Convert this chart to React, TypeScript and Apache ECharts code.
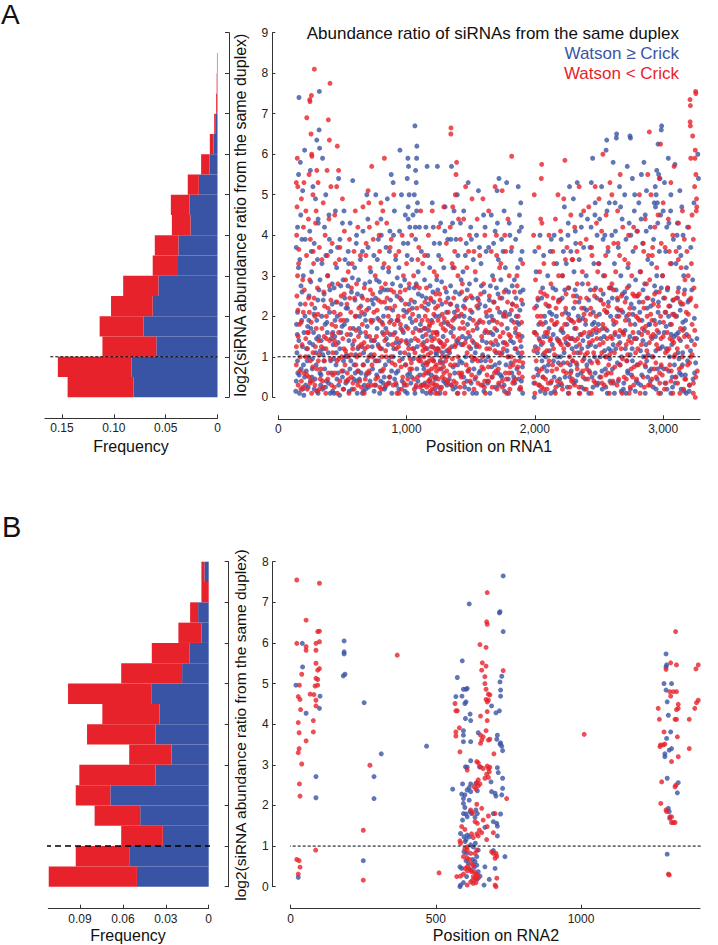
import React, { useEffect, useRef } from 'react';
import * as echarts from 'echarts';

const BLUE = '#3A54A5';
const RED = '#E8222A';
const FONT = '"Liberation Sans", Arial, Helvetica, sans-serif';

// Histogram bins (log2 ratio, 0.5 wide)
const binLabelsA = ['0-0.5','0.5-1','1-1.5','1.5-2','2-2.5','2.5-3','3-3.5','3.5-4','4-4.5','4.5-5','5-5.5','5.5-6','6-6.5','6.5-7','7-7.5','7.5-8','8-8.5','8.5-9'];
const histBlueA = [0.081,0.083,0.059,0.0715,0.0625,0.057,0.039,0.0377,0.026,0.027,0.018,0.0077,0.0039,0.0016,0.0003,0.0002,0,0];
const histRedA = [0.0636,0.071,0.052,0.0422,0.0402,0.034,0.0235,0.0228,0.018,0.018,0.0107,0.0081,0.0035,0.0016,0.001,0.0006,0.0005,0];

const binLabelsB = ['0-0.5','0.5-1','1-1.5','1.5-2','2-2.5','2.5-3','3-3.5','3.5-4','4-4.5','4.5-5','5-5.5','5.5-6','6-6.5','6.5-7','7-7.5','7.5-8'];
const histBlueB = [0.0502,0.0556,0.0321,0.0479,0.0688,0.0372,0.026,0.0372,0.0344,0.0398,0.0186,0.0135,0.0051,0.0074,0,0.003];
const histRedB = [0.0617,0.0374,0.0291,0.0319,0.0242,0.0533,0.0296,0.0479,0.04,0.0586,0.0426,0.0263,0.0161,0.0056,0.0051,0.0021];

const freqTicksA = [0, 0.05, 0.1, 0.15];
const freqTicksB = [0, 0.03, 0.06, 0.09];
const threshold = 1;

// RNA1 scatter: [position, log2 ratio] flattened
const watsonGeA1 = [161,7.4,172,5.8,158,5.5,205,6.1,190,5.1,150,4.2,175,4.5,210,3.9,140,3.7,168,3.4,195,3.0,150,2.1,185,2.6,142,1.8,200,1.6,160,1.4,220,1.2,150,0.9,178,0.7,205,0.5,140,0.4,190,0.2,225,0.9,165,0.1,145,1.1,182,1.9,213,0.3,172,2.3,196,0.8,152,0.6,
320,7.55,318,6.6,300,6.35,322,6.15,250,5.6,270,5.2,290,4.9,310,4.4,245,4.1,280,3.8,305,3.4,260,3.1,325,2.9,240,2.5,285,2.2,300,1.9,255,1.7,315,1.5,270,1.3,235,1.0,295,0.8,325,0.6,250,0.4,280,0.2,310,0.1,265,0.7,238,1.9,262,0.5,292,1.1,308,2.4,275,1.6,330,0.3,
345,5.9,370,5.0,395,4.5,360,4.2,410,3.6,340,3.3,385,3.0,420,2.8,350,2.4,400,2.1,365,1.8,425,1.6,335,1.4,390,1.1,355,0.9,415,0.6,375,0.4,345,0.2,405,0.1,428,1.3,338,2.0,362,0.7,382,1.6,408,0.9,420,2.3,352,1.2,
470,5.4,445,4.6,500,4.3,480,3.9,520,3.4,455,3.2,505,2.9,435,2.7,490,2.3,460,2.0,515,1.8,440,1.5,480,1.2,525,1.0,450,0.8,500,0.5,470,0.3,435,0.1,510,0.2,442,1.9,466,0.6,488,1.6,508,0.9,528,2.2,452,1.1,
580,5.35,560,4.3,610,4.0,545,3.6,595,3.2,625,2.9,570,2.6,540,2.2,605,2.0,585,1.7,550,1.4,620,1.2,565,0.9,600,0.6,540,0.4,575,0.2,615,0.1,590,0.8,535,1.9,558,0.7,580,1.3,598,2.4,612,0.4,628,1.7,
690,5.0,660,4.1,700,3.7,640,3.4,720,3.1,675,2.8,650,2.5,705,2.2,680,1.9,640,1.6,725,1.4,665,1.1,695,0.9,645,0.6,715,0.4,680,0.2,655,0.1,635,2.0,660,0.8,688,1.5,708,0.6,728,2.4,670,0.3,
760,5.0,800,4.4,780,3.9,745,3.5,815,3.2,765,2.9,795,2.6,740,2.3,820,2.0,770,1.7,750,1.4,805,1.2,785,0.9,735,0.7,825,0.5,760,0.3,790,0.1,738,1.9,755,0.9,778,1.3,798,0.4,812,1.6,828,0.2,
880,5.5,895,5.3,850,4.9,905,4.6,870,4.1,840,3.7,915,3.4,860,3.1,890,2.8,925,2.5,845,2.2,880,1.9,910,1.6,855,1.3,895,1.0,835,0.8,870,0.5,920,0.3,885,0.1,838,1.7,862,0.9,875,2.4,900,1.2,918,0.6,928,1.9];

const watsonGeA2 = [948,6.1,1010,5.9,1015,5.7,1005,5.4,960,5.0,1020,5.0,1012,4.7,990,4.5,945,4.1,1025,4.2,975,3.8,1005,3.5,940,3.2,985,2.9,1020,2.7,960,2.4,1000,2.1,935,1.9,975,1.6,1015,1.3,950,1.1,990,0.8,1025,0.6,965,0.4,940,0.2,1005,0.1,955,1.7,982,0.3,998,1.4,1018,2.3,
1065,6.7,1080,6.2,1078,5.9,1070,5.6,1075,5.3,1060,5.0,1085,4.8,1050,4.5,1100,4.2,1070,3.9,1115,3.6,1040,3.4,1090,3.1,1075,2.8,1060,2.7,1120,2.5,1045,2.2,1095,2.0,1070,1.7,1125,1.5,1055,1.2,1105,1.0,1080,0.7,1040,0.5,1115,0.3,1065,0.1,1035,1.4,1088,0.4,1108,1.8,1128,0.8,
1160,5.7,1200,4.8,1150,4.2,1215,3.8,1180,3.2,1140,2.9,1205,2.6,1170,2.3,1225,2.0,1145,1.7,1190,1.5,1160,1.2,1210,0.9,1135,0.7,1180,0.4,1220,0.2,1155,0.1,1142,2.2,1168,0.6,1195,1.9,1228,1.1,1188,0.1,
1240,5.7,1300,4.7,1265,4.3,1320,3.9,1250,3.5,1290,3.2,1235,2.9,1310,2.6,1275,2.3,1255,2.0,1325,1.8,1285,1.5,1245,1.2,1305,1.0,1270,0.7,1230,0.5,1315,0.3,1260,0.1,1238,1.6,1262,0.9,1288,0.4,1312,2.1,1280,1.1,
1350,5.7,1395,5.0,1370,4.6,1420,4.3,1345,3.9,1400,3.5,1360,3.2,1425,2.9,1380,2.6,1340,2.3,1410,2.0,1365,1.7,1390,1.4,1335,1.1,1415,0.9,1375,0.6,1350,0.3,1400,0.1,1345,1.6,1372,2.1,1398,0.8,1428,1.3,1362,0.2,
1480,5.3,1445,4.6,1500,4.2,1465,3.8,1520,3.4,1440,3.1,1490,2.8,1455,2.4,1510,2.1,1475,1.8,1435,1.5,1500,1.2,1460,1.0,1525,0.7,1445,0.5,1485,0.2,1515,0.1,1448,2.0,1470,0.4,1492,1.5,1512,0.9,
1560,5.1,1600,4.5,1545,4.0,1620,3.6,1580,3.3,1540,2.9,1605,2.6,1570,2.3,1625,2.0,1550,1.7,1590,1.4,1535,1.1,1615,0.9,1565,0.6,1595,0.3,1545,0.1,1558,2.2,1578,0.9,1610,1.6,1628,0.4,
1720,5.4,1705,5.1,1660,4.5,1690,4.1,1640,3.7,1715,3.4,1670,3.0,1700,2.7,1645,2.4,1725,2.1,1680,1.9,1655,1.6,1710,1.3,1635,1.0,1690,0.8,1665,0.5,1720,0.3,1650,0.1,1662,2.0,1698,1.1,1712,0.6,1675,1.3,
1780,5.3,1760,4.6,1800,4.3,1740,3.9,1815,3.6,1770,3.2,1735,2.9,1795,2.6,1825,2.3,1755,2.0,1785,1.7,1810,1.4,1745,1.1,1775,0.8,1820,0.6,1760,0.3,1795,0.1,1768,2.1,1792,1.0,1742,0.5,1818,1.9,
1870,5.2,1890,4.8,1880,4.5,1895,4.2,1850,3.9,1900,3.6,1865,3.2,1840,2.9,1885,2.6,1905,2.3,1855,2.0,1875,1.8,1900,1.5,1845,1.2,1890,1.0,1860,0.7,1835,0.5,1880,0.2,1905,0.1,1848,1.6,1868,1.1,1895,0.4];

const watsonGeA3 = [2000,3.6,2040,4.0,2010,3.1,2060,2.7,2025,2.4,2075,2.0,2000,1.6,2050,1.3,2085,1.0,2015,0.7,2065,0.5,2035,0.3,2080,0.1,1995,0.0,2030,1.8,2055,0.9,2070,1.5,2020,1.1,
2150,4.0,2120,3.6,2170,3.3,2100,3.0,2140,2.7,2185,2.4,2115,2.1,2160,1.8,2095,1.5,2135,1.3,2175,1.0,2105,0.8,2150,0.5,2185,0.3,2125,0.1,2110,1.7,2145,0.9,2168,2.0,2188,1.4,
2270,5.2,2230,4.7,2260,4.3,2205,3.9,2280,3.6,2245,3.3,2215,3.0,2265,2.7,2195,2.4,2240,2.1,2285,1.9,2220,1.6,2255,1.3,2200,1.0,2275,0.8,2235,0.5,2210,0.3,2260,0.1,2228,1.1,2250,1.8,2272,0.5,2290,1.2,
2330,5.3,2300,4.9,2360,4.5,2315,4.1,2380,3.7,2345,3.4,2305,3.1,2370,2.8,2325,2.5,2385,2.2,2350,1.9,2310,1.7,2375,1.4,2335,1.1,2295,0.9,2360,0.6,2320,0.4,2385,0.2,2345,0.1,2302,2.2,2338,2.0,2365,1.2,2328,0.8,
2450,5.9,2440,5.3,2470,4.8,2410,4.4,2485,4.0,2430,3.7,2460,3.3,2400,3.0,2475,2.7,2420,2.4,2455,2.1,2395,1.8,2480,1.6,2435,1.3,2465,1.0,2405,0.8,2445,0.5,2485,0.3,2420,0.1,2415,1.5,2448,1.8,2470,0.6,2428,0.9,
2560,6.35,2555,6.1,2520,5.2,2580,4.8,2505,4.4,2545,4.0,2570,3.6,2500,3.3,2535,3.0,2585,2.7,2515,2.4,2560,2.1,2495,1.8,2540,1.5,2575,1.2,2510,1.0,2550,0.7,2585,0.4,2525,0.2,2565,0.1,2528,1.7,2555,1.0,2590,2.0,2505,0.5,
2637,6.5,2635,6.4,2610,5.8,2660,5.2,2625,4.8,2680,4.4,2600,4.0,2650,3.7,2620,3.3,2670,3.0,2595,2.7,2645,2.4,2685,2.1,2615,1.8,2655,1.5,2630,1.2,2675,1.0,2605,0.7,2650,0.4,2690,0.2,2620,0.1,2640,2.0,2662,0.8,2610,1.3,2688,1.6,
2741,6.45,2745,6.4,2720,5.7,2760,5.4,2700,5.0,2775,4.6,2735,4.3,2710,3.9,2765,3.6,2725,3.2,2785,2.9,2700,2.6,2750,2.3,2715,2.0,2780,1.8,2740,1.5,2705,1.2,2760,0.9,2725,0.6,2790,0.4,2745,0.2,2710,0.1,2732,1.9,2758,1.2,2772,2.2,2718,0.9,
2850,5.8,2830,5.5,2870,5.1,2810,4.8,2860,4.5,2795,4.1,2840,3.8,2880,3.4,2820,3.1,2855,2.8,2800,2.5,2875,2.2,2835,1.9,2810,1.6,2865,1.3,2845,1.0,2795,0.8,2880,0.5,2825,0.3,2860,0.1,2818,2.1,2842,1.4,2872,0.9,2888,1.8,
2988,6.7,2985,6.6,2960,6.25,2950,5.6,2965,5.5,2975,5.4,2945,5.0,2930,4.8,2940,4.7,2955,4.8,2980,4.5,2900,4.2,2925,3.9,2970,3.6,2910,3.3,2950,3.0,2985,2.7,2920,2.4,2960,2.1,2895,1.8,2940,1.5,2975,1.2,2915,1.0,2955,0.7,2900,0.4,2945,0.2,2980,0.1,2932,1.9,2965,1.6,2908,0.7,2945,2.6,
3040,5.9,3010,5.3,3060,5.0,3000,4.6,3045,4.3,3080,3.9,3020,3.6,3065,3.3,2995,3.0,3035,2.7,3075,2.4,3015,2.1,3055,1.8,3085,1.5,3025,1.2,3050,1.0,3005,0.7,3070,0.5,3030,0.2,3060,0.1,3008,1.6,3042,2.0,3068,1.3,3088,0.8,
3092,5.75,3130,5.1,3145,4.7,3110,4.3,3155,4.0,3125,3.7,3100,3.3,3160,3.0,3120,2.7,3140,2.3,3105,2.0,3165,1.7,3135,1.4,3115,1.1,3150,0.8,3100,0.5,3140,0.2,3118,1.6,3152,1.1,3128,0.6,
3270,6.0,3275,5.4,3240,4.8,3190,4.2,3215,3.7,3180,3.2,3230,2.9,3200,2.4,3175,1.9,3220,1.4,3190,0.9,3245,0.6,3205,0.3,3180,0.1];

const watsonGeA4 = [136,0.15,148,1.55,163,0.55,177,2.75,188,1.25,199,0.05,208,2.0,218,0.65,229,1.75,157,3.2,184,3.9,
233,0.25,244,1.35,253,2.85,266,0.95,278,2.05,287,0.45,298,1.45,306,0.15,317,2.65,328,1.15,257,3.6,312,4.3,
333,0.55,347,1.05,357,2.55,368,0.25,379,1.85,392,0.35,402,2.65,413,1.45,423,0.15,371,3.5,398,3.9,
432,0.95,448,2.35,457,0.45,468,1.35,478,0.05,487,2.75,497,1.75,506,0.65,518,2.45,526,0.35,462,3.7,512,4.6,
532,1.05,543,2.75,553,0.15,563,1.55,577,2.95,588,0.45,603,1.05,617,2.55,624,0.65,548,3.3,608,3.8,
632,0.45,643,2.25,652,1.25,663,0.15,672,2.05,684,0.55,693,1.75,702,0.25,713,2.85,722,1.05,656,3.6,698,4.4,
732,1.25,747,0.15,758,2.45,767,0.55,775,1.95,787,2.85,796,0.65,808,1.85,818,0.35,826,2.65,772,3.4,803,4.0,
833,0.25,843,1.45,852,2.65,864,0.35,873,1.55,883,0.65,892,2.15,907,0.45,916,1.35,927,2.95,866,3.6,898,4.0,
933,0.65,944,1.35,953,2.75,967,0.95,977,2.15,988,0.15,996,1.75,1008,0.55,1017,1.05,1028,1.95,1010,3.8,1013,4.4,
1033,0.35,1043,1.85,1052,0.95,1062,2.35,1072,0.25,1083,1.25,1092,2.55,1103,0.55,1113,1.65,1124,0.15,1068,4.2,1078,4.6,
1133,1.35,1143,0.35,1153,2.45,1163,0.85,1173,1.65,1183,2.75,1193,0.55,1203,1.25,1213,2.35,1223,0.45,1165,3.5,1208,4.2,
1233,1.05,1243,2.65,1253,0.25,1263,1.35,1273,2.85,1283,0.85,1293,1.85,1303,0.35,1313,1.15,1323,2.45,1258,3.8,1298,4.1,
1333,0.45,1343,2.75,1353,1.25,1363,0.75,1373,1.95,1383,0.25,1393,2.25,1403,1.35,1413,2.55,1423,0.55,1385,3.9,1358,4.3,
1433,0.85,1443,2.25,1453,0.25,1463,1.45,1473,2.65,1483,0.65,1493,1.95,1503,0.35,1513,2.45,1523,1.35,1458,3.5,1505,3.9,
1533,0.45,1543,1.25,1553,2.45,1563,1.85,1573,0.65,1583,2.75,1593,1.05,1603,0.15,1613,2.25,1623,1.35,1568,3.7,1612,4.2,
1633,0.35,1643,1.85,1653,2.75,1663,0.75,1673,1.55,1683,2.35,1693,0.25,1703,1.65,1713,2.55,1723,0.85,1678,3.8,1708,4.3,
1733,0.55,1743,2.45,1753,1.35,1763,0.15,1773,2.65,1783,1.15,1793,0.45,1803,2.05,1813,0.85,1823,2.75,1752,3.6,1805,4.0,
1833,1.35,1843,0.35,1853,2.45,1863,1.85,1873,0.45,1883,2.15,1893,1.25,1903,0.75,1908,2.65,1888,3.4,1878,4.1,
1992,0.35,2003,1.25,2013,2.25,2023,0.55,2033,1.45,2043,0.15,2053,2.45,2063,1.05,2073,0.75,2083,1.85,2068,3.5,
2093,0.65,2103,2.25,2113,1.15,2123,0.35,2133,2.05,2143,1.55,2153,0.15,2163,2.65,2173,1.45,2183,0.85,2128,3.9,
2193,0.45,2203,1.65,2213,2.45,2223,0.85,2233,2.65,2243,1.35,2253,0.25,2263,2.05,2273,1.45,2283,0.65,2222,3.6,2258,4.0,
2293,1.45,2303,0.35,2313,2.65,2323,1.25,2333,0.55,2343,2.35,2353,1.55,2363,0.25,2373,1.95,2383,0.95,2318,3.8,2362,4.2,
2393,0.45,2403,2.15,2413,1.25,2423,0.65,2433,2.65,2443,1.55,2453,0.25,2463,1.85,2473,1.25,2483,2.45,2438,4.2,2468,4.5,
2493,0.35,2503,2.05,2513,1.45,2523,0.65,2533,2.55,2543,1.15,2553,0.25,2563,1.65,2573,2.35,2583,0.95,2532,3.9,2562,4.6,
2593,1.15,2603,2.45,2613,0.35,2623,1.55,2633,2.65,2643,0.85,2653,2.15,2663,1.35,2673,0.15,2683,2.55,2628,4.1,2668,4.7,
2693,0.35,2703,1.65,2713,2.45,2723,0.65,2733,2.75,2743,1.05,2753,0.55,2763,2.05,2773,1.45,2783,0.15,2748,4.0,2778,5.0,
2793,1.45,2803,0.35,2813,2.35,2823,1.15,2833,0.55,2843,2.65,2853,1.65,2863,0.75,2873,2.45,2883,1.05,2828,4.4,2868,4.1,
2893,0.65,2903,2.25,2913,1.45,2923,0.25,2933,2.75,2943,1.15,2953,0.45,2963,2.35,2973,1.85,2983,0.75,2958,4.3,2938,5.2,
2993,1.25,3003,2.45,3013,0.35,3023,1.75,3033,2.65,3043,0.65,3053,2.25,3063,1.55,3073,0.25,3083,2.05,3028,4.2,3058,4.6,
3093,0.35,3103,1.55,3113,2.45,3123,0.95,3133,2.15,3143,0.55,3153,1.85,3163,0.15,3168,2.65,3138,3.5,3108,4.0,
3173,0.55,3183,1.55,3193,2.35,3203,0.15,3213,1.15,3223,2.65,3233,0.45,3243,1.95,3253,0.85,3263,1.45];

const watsonLtA1 = [148,5.9,140,5.3,152,5.2,146,4.7,200,5.3,180,4.9,215,4.6,143,4.0,160,3.65,220,3.5,150,3.0,190,2.9,145,2.5,210,2.3,155,1.5,185,1.3,170,1.0,140,0.8,200,0.6,155,0.3,225,0.2,180,0.4,165,1.8,195,2.1,212,1.0,176,0.2,228,1.6,
281,8.1,258,7.45,245,7.35,247,7.3,222,6.9,255,6.5,260,6.0,262,5.95,240,5.5,300,5.6,270,5.0,310,5.3,235,4.4,290,4.3,250,3.9,320,3.7,275,3.3,245,2.9,305,2.7,260,2.3,285,2.0,235,1.6,315,1.4,270,1.1,250,0.9,300,0.7,240,0.5,285,0.3,320,0.2,260,0.1,228,1.2,296,1.7,312,0.9,266,0.4,242,2.1,
403,7.75,390,6.85,398,6.35,380,5.6,410,5.2,350,4.8,395,4.4,365,4.0,420,3.8,340,3.4,385,3.0,355,2.6,410,2.4,375,2.0,340,1.7,400,1.4,425,1.1,360,0.9,390,0.6,345,0.4,415,0.3,370,0.1,332,0.7,358,1.5,388,2.2,418,1.8,372,1.2,
460,6.2,470,5.6,455,5.2,500,4.9,440,4.5,515,4.1,480,3.7,445,3.3,525,2.9,465,2.8,490,2.5,435,2.1,510,1.9,470,1.6,450,1.3,495,1.0,520,0.8,440,0.6,480,0.4,505,0.2,460,0.1,438,1.4,458,0.9,486,1.9,512,1.2,528,0.4,
600,4.6,620,4.2,555,3.9,590,3.6,545,3.1,610,2.8,570,2.7,535,2.3,600,2.0,560,1.7,625,1.5,580,1.2,545,1.0,605,0.8,570,0.5,620,0.3,550,0.1,590,0.2,538,0.6,565,2.1,592,1.4,612,1.0,628,2.2,
728,5.7,700,5.1,705,4.8,710,4.2,660,4.7,685,3.8,640,3.5,715,3.2,670,2.7,695,2.4,650,2.1,720,1.9,680,1.6,645,1.3,705,1.0,665,0.8,690,0.6,635,0.4,725,0.3,670,0.1,655,1.8,676,1.2,698,0.3,712,1.5,730,0.8,
827,5.9,800,4.8,815,4.6,770,4.3,740,3.9,790,3.6,825,3.3,755,3.0,805,2.7,780,2.4,745,2.1,815,1.8,765,1.5,795,1.2,735,1.0,820,0.7,775,0.5,750,0.3,805,0.2,742,1.4,768,0.9,788,1.9,808,1.0,830,1.4,
900,5.0,845,4.3,880,3.9,915,3.5,860,3.2,835,2.8,900,2.6,870,2.2,925,1.9,850,1.6,890,1.3,840,1.0,910,0.8,865,0.5,895,0.3,925,0.1,842,0.3,858,2.0,878,1.0,904,1.8,920,1.2];

const watsonLtA2 = [965,4.0,940,3.6,1000,3.3,975,3.0,1020,2.8,950,2.6,990,2.3,935,2.0,1010,1.7,960,1.4,985,1.1,945,0.9,1025,0.7,970,0.5,1000,0.3,940,0.1,952,1.8,978,2.0,995,0.8,1015,1.2,962,0.2,
1110,4.6,1040,4.0,1095,3.7,1125,3.3,1055,3.0,1100,2.7,1035,2.4,1080,2.2,1120,1.9,1050,1.6,1090,1.4,1065,1.1,1110,0.9,1040,0.7,1085,0.5,1125,0.3,1060,0.2,1045,1.2,1072,1.9,1098,0.9,1118,1.3,1075,0.3,
1200,4.6,1170,4.0,1140,3.5,1215,3.1,1155,2.7,1190,2.4,1225,2.2,1145,2.0,1180,1.8,1205,1.6,1160,1.4,1220,1.2,1135,1.0,1175,0.9,1195,0.7,1150,0.6,1215,0.5,1170,0.4,1140,0.3,1200,0.2,1225,0.1,1185,0.15,1148,1.2,1165,1.9,1188,1.1,1210,0.9,1228,1.6,1158,0.8,1178,0.3,1198,1.4,1138,1.7,1218,0.3,
1290,4.7,1250,4.2,1310,3.8,1270,3.4,1235,3.0,1300,2.7,1260,2.4,1325,2.1,1245,1.9,1285,1.7,1315,1.4,1240,1.2,1275,1.0,1305,0.9,1255,0.7,1290,0.6,1320,0.4,1235,0.3,1265,0.2,1300,0.1,1232,0.8,1252,1.4,1278,0.5,1296,1.3,1318,1.0,1268,1.8,1242,0.1,
1346,6.65,1345,6.5,1390,5.8,1385,5.5,1380,5.0,1360,4.7,1405,4.4,1340,4.2,1420,3.9,1375,3.6,1355,3.3,1400,3.0,1430,2.6,1345,2.3,1385,2.0,1415,1.7,1365,1.5,1335,1.2,1400,1.0,1375,0.8,1425,0.5,1350,0.3,1395,0.1,1358,1.9,1382,1.3,1408,0.6,1342,0.8,1368,0.4,
1460,5.2,1510,4.9,1445,4.4,1490,4.0,1525,3.6,1470,3.2,1435,2.8,1500,2.5,1455,2.2,1520,1.9,1480,1.6,1440,1.3,1505,1.0,1465,0.8,1430,0.6,1495,0.4,1525,0.2,1450,0.1,1448,1.7,1472,1.1,1488,0.7,1512,1.4,
1595,4.9,1550,4.4,1610,4.0,1570,3.5,1535,3.1,1600,2.8,1560,2.4,1620,2.1,1545,1.8,1585,1.5,1625,1.2,1555,0.9,1600,0.7,1540,0.5,1580,0.3,1615,0.1,1548,1.3,1572,1.9,1592,1.0,1608,0.4,
1690,5.2,1640,4.6,1700,4.0,1660,3.6,1725,3.2,1680,2.9,1645,2.5,1710,2.2,1670,1.9,1635,1.6,1695,1.4,1720,1.1,1655,0.9,1685,0.6,1640,0.4,1705,0.2,1648,1.2,1668,0.5,1688,1.7,1715,0.7,1728,1.5,
1819,5.95,1745,5.1,1790,4.4,1765,4.0,1820,3.7,1735,3.3,1800,3.0,1760,2.6,1825,2.3,1775,2.0,1740,1.8,1810,1.5,1755,1.2,1790,1.0,1830,0.8,1770,0.6,1745,0.4,1805,0.2,1780,0.1,1752,1.6,1782,1.3,1798,0.6,1815,1.0,
1905,3.3,1860,3.0,1840,2.6,1895,2.4,1870,2.0,1850,1.7,1885,1.4,1900,1.1,1845,0.9,1875,0.6,1835,0.4,1890,0.2,1855,1.2,1878,0.9,1902,0.5,1865,1.5];

const watsonLtA3 = [2053,5.75,2050,5.4,1995,5.0,2045,4.4,2055,4.3,1990,4.0,2030,3.7,2070,3.3,2005,2.9,2045,2.6,2085,2.3,2020,2.0,2060,1.8,1995,1.6,2040,1.4,2075,1.1,2010,0.9,2055,0.7,1990,0.5,2030,0.3,2070,0.2,2000,0.1,1998,2.2,2025,1.2,2048,2.0,2062,0.5,2082,1.6,
2180,5.0,2160,4.4,2110,4.0,2140,3.6,2185,3.0,2125,2.8,2095,2.5,2165,2.2,2130,1.9,2100,1.6,2180,1.4,2145,1.2,2110,0.9,2170,0.7,2130,0.4,2095,0.2,2160,0.1,2118,1.4,2152,1.8,2175,0.4,2138,0.8,
2234,5.85,2225,4.9,2280,4.5,2200,4.1,2250,3.7,2290,3.4,2215,3.0,2260,2.7,2195,2.4,2240,2.2,2280,1.9,2210,1.7,2255,1.5,2225,1.2,2270,1.0,2200,0.8,2245,0.6,2285,0.4,2215,0.2,2265,0.1,2232,1.8,2262,1.3,2205,1.3,2278,0.6,
2345,5.2,2380,4.6,2310,4.2,2355,3.8,2295,3.4,2370,3.1,2330,2.8,2300,2.5,2365,2.2,2340,1.9,2385,1.6,2315,1.4,2355,1.1,2295,0.9,2330,0.7,2375,0.5,2310,0.3,2350,0.1,2322,1.7,2348,1.3,2372,0.9,2305,1.1,
2470,5.2,2420,4.7,2480,4.3,2400,3.9,2445,3.5,2490,3.1,2415,2.8,2465,2.5,2435,2.2,2395,1.9,2475,1.7,2450,1.4,2410,1.1,2485,0.9,2430,0.6,2460,0.4,2400,0.2,2440,0.1,2425,1.6,2458,1.1,2478,2.0,2405,0.7,
2530,6.0,2585,5.3,2500,4.9,2555,4.5,2520,4.1,2570,3.7,2495,3.3,2545,3.0,2580,2.7,2510,2.4,2560,2.1,2530,1.8,2590,1.5,2505,1.3,2550,1.0,2575,0.8,2515,0.5,2540,0.3,2580,0.1,2522,1.1,2548,1.7,2568,0.6,2535,2.3,
2665,5.5,2600,5.0,2645,4.6,2685,4.2,2615,3.8,2660,3.5,2630,3.1,2600,2.8,2675,2.5,2640,2.2,2610,1.9,2685,1.6,2650,1.3,2620,1.1,2665,0.8,2595,0.6,2640,0.3,2680,0.1,2625,1.6,2655,2.0,2672,1.2,2608,0.4,
2770,4.2,2730,4.0,2785,3.7,2700,3.4,2755,3.0,2720,2.7,2775,2.5,2740,2.2,2705,1.9,2765,1.6,2730,1.4,2785,1.1,2715,0.9,2750,0.7,2695,0.5,2770,0.3,2735,0.1,2712,1.3,2745,1.8,2762,0.5,2788,2.0,
2892,6.55,2880,5.5,2815,5.0,2860,4.4,2800,4.1,2845,3.8,2885,3.5,2825,3.1,2870,2.8,2795,2.5,2850,2.2,2815,1.9,2880,1.6,2830,1.3,2865,1.0,2805,0.8,2845,0.5,2885,0.3,2820,0.1,2838,1.7,2858,0.8,2802,1.2,2875,2.0,
2980,6.25,2970,5.4,2905,5.0,2960,4.5,2935,4.2,2985,3.8,2915,3.5,2950,3.2,2895,2.9,2970,2.6,2925,2.3,2980,2.0,2940,1.8,2905,1.5,2960,1.2,2920,1.0,2985,0.8,2945,0.5,2900,0.3,2965,0.1,2912,1.9,2948,1.3,2972,0.6,2930,0.7,
3085,5.7,3060,5.3,3000,4.8,3040,4.4,3075,4.0,3015,3.7,3055,3.3,2995,3.0,3035,2.7,3080,2.4,3020,2.1,3065,1.8,3000,1.5,3045,1.2,3085,1.0,3025,0.7,3060,0.4,3010,0.2,3075,0.1,3032,1.6,3052,0.8,3072,1.4,3018,1.1,
3150,4.6,3120,4.3,3165,3.9,3100,3.6,3140,3.2,3170,2.9,3115,2.6,3155,2.3,3095,2.0,3135,1.7,3165,1.5,3110,1.2,3150,1.0,3125,0.7,3095,0.5,3160,0.2,3130,0.1,
3253,7.55,3255,7.5,3209,7.35,3212,7.2,3210,6.8,3212,6.7,3230,6.45,3250,6.1,3248,5.9,3215,5.9,3255,5.5,3245,5.2,3260,4.9,3262,4.7,3258,4.6,3225,4.5,3200,4.2,3235,3.9,3185,3.6,3220,3.3,3195,3.0,3240,2.7,3210,2.4,3180,2.1,3225,1.8,3200,1.5,3245,1.3,3215,1.0,3190,0.8,3255,0.5,3205,0.3,3235,0.1,3250,0.0];

const watsonLtA4 = [141,1.25,153,2.15,168,0.65,179,1.85,193,0.25,203,2.65,214,1.45,222,0.55,158,3.3,196,4.2,
236,2.45,248,0.35,257,1.85,268,0.75,279,2.45,289,1.25,299,0.15,309,2.05,318,1.05,327,0.45,272,3.6,295,4.6,
336,1.25,349,0.25,361,2.25,374,1.45,386,0.45,397,2.75,407,0.95,419,1.55,426,0.55,382,3.5,
436,0.25,447,1.75,459,2.35,471,0.95,483,2.05,494,0.65,503,1.45,514,2.55,524,1.15,475,3.4,
536,1.55,547,0.45,557,2.45,568,1.05,582,0.35,594,2.45,607,1.65,619,0.65,626,1.25,575,3.3,
637,1.05,648,0.25,658,2.45,668,1.35,678,0.45,688,2.15,697,1.25,707,0.65,718,2.65,726,1.85,683,3.5,
736,2.55,748,1.05,759,0.45,771,2.15,783,1.25,792,0.25,801,2.35,811,0.65,822,1.55,829,2.35,786,4.0,
837,1.15,848,2.45,857,0.35,867,1.85,877,2.65,887,0.85,897,1.55,908,2.25,917,0.35,926,1.45,872,3.7,
937,1.25,947,2.45,957,0.75,968,1.65,979,0.35,989,2.65,999,1.35,1009,0.45,1019,2.15,1027,0.95,
1037,0.85,1047,2.05,1057,0.45,1067,1.45,1077,2.75,1087,0.95,1097,1.65,1107,0.25,1117,2.25,1127,1.15,1088,3.4,
1132,0.55,1137,1.25,1143,2.35,1147,0.85,1152,1.55,1157,0.25,1162,2.15,1167,1.05,1172,0.65,1177,1.75,1182,0.45,1187,2.45,1192,1.25,1197,0.95,1202,1.85,1207,0.35,1212,2.05,1217,1.45,1222,0.75,1227,2.55,
1233,0.65,1238,1.55,1243,2.25,1248,0.45,1253,1.15,1258,2.55,1263,0.85,1268,1.35,1273,0.25,1278,2.05,1283,1.25,1288,0.75,1293,1.95,1298,0.45,1303,1.65,1308,2.35,1313,0.65,1318,1.85,1323,0.35,1328,1.15,
1337,0.55,1347,1.75,1357,0.95,1367,2.45,1377,1.25,1387,0.35,1397,2.15,1407,1.45,1417,0.25,1427,2.05,1372,3.2,
1437,1.85,1447,0.35,1457,1.35,1467,2.45,1477,0.65,1487,1.25,1497,2.15,1507,0.55,1517,1.65,1527,0.95,1483,3.6,
1537,0.95,1547,2.25,1557,0.35,1567,1.25,1577,2.55,1587,0.75,1597,1.85,1607,0.25,1617,1.65,1627,0.55,
1637,0.75,1647,2.15,1657,1.35,1667,0.25,1677,2.35,1687,1.15,1697,0.65,1707,1.85,1717,0.35,1727,2.45,1702,3.5,
1737,1.05,1747,0.25,1757,2.05,1767,1.35,1777,0.45,1787,2.35,1797,1.55,1807,0.75,1817,2.15,1827,0.35,1772,3.6,
1837,1.85,1847,0.45,1857,2.25,1867,0.75,1877,1.55,1887,0.25,1897,1.85,1907,0.85,1862,2.75,
1993,1.15,2003,0.35,2013,1.55,2023,2.45,2033,0.65,2043,1.85,2053,0.25,2063,1.35,2073,2.55,2083,0.45,2038,3.1,
2093,1.15,2103,0.35,2113,2.25,2123,1.45,2133,0.65,2143,2.45,2153,1.05,2163,0.25,2173,1.85,2183,2.35,2148,3.3,
2193,1.35,2203,0.35,2213,2.05,2223,0.65,2233,1.45,2243,2.55,2253,0.85,2263,1.95,2273,0.25,2283,1.45,2238,3.4,
2293,0.45,2303,1.85,2313,2.35,2323,0.85,2333,1.45,2343,0.25,2353,2.45,2363,1.55,2373,0.65,2383,2.05,2328,3.6,
2393,1.05,2403,2.45,2413,0.45,2423,1.35,2433,2.05,2443,0.85,2453,1.65,2463,2.65,2473,0.35,2483,1.45,2442,3.7,
2493,0.85,2503,1.65,2513,2.65,2523,0.35,2533,1.35,2543,2.15,2553,0.55,2563,1.45,2573,2.25,2583,1.05,2552,3.5,
2593,0.35,2603,1.45,2613,2.65,2623,0.75,2633,1.85,2643,2.45,2653,0.45,2663,1.65,2673,2.15,2683,0.95,2648,3.8,
2693,1.55,2703,2.35,2713,0.45,2723,1.05,2733,2.05,2743,0.25,2753,1.35,2763,2.55,2773,0.75,2783,1.45,2728,3.3,
2793,0.45,2803,1.95,2813,2.55,2823,0.85,2833,1.55,2843,2.35,2853,0.25,2863,1.75,2873,1.15,2883,2.45,2848,3.6,
2893,1.35,2903,2.05,2913,0.45,2923,1.55,2933,2.55,2943,0.85,2953,1.65,2963,2.25,2973,0.35,2983,1.45,2918,3.7,
2993,0.55,3003,1.85,3013,2.45,3023,0.35,3033,1.15,3043,2.25,3053,1.45,3063,0.65,3073,2.05,3083,1.35,3048,3.6,
3093,1.05,3103,2.45,3113,0.35,3123,1.45,3133,2.35,3143,0.75,3153,1.65,3163,2.55,3168,0.45,3118,3.4,
3176,0.45,3186,1.25,3196,2.05,3206,0.85,3216,2.45,3226,1.05,3236,0.35,3246,1.65,3256,2.25,3266,0.65];

// RNA2 scatter
const watsonGeB = [40,5.99,41,5.41,18,4.96,53,4.27,101,4.69,99,4.39,87,2.71,87,2.19,26,0.23,184,6.05,184,5.78,184,5.73,187,5.23,181,5.19,253,4.53,287,2.71,287,2.17,312,3.27,250,0.64,468,3.46,
732,7.65,615,6.96,721,6.77,719,6.74,732,6.28,591,5.56,574,5.15,727,5.18,721,5.04,595,4.86,604,4.86,608,4.88,569,4.68,590,4.69,723,4.84,723,4.69,600,4.51,604,4.55,692,4.45,719,4.33,707,4.28,618,4.25,602,4.14,620,4.09,595,3.84,595,3.73,646,3.79,712,3.73,710,3.63,723,3.54,727,3.46,730,3.35,595,3.57,620,3.57,721,3.51,620,3.1,602,2.95,608,2.94,650,2.95,712,2.93,715,2.81,730,2.67,690,2.58,592,2.53,620,2.53,730,2.42,638,2.54,615,2.44,620,2.34,608,2.38,558,2.4,589,2.28,600,2.26,595,2.17,643,2.36,692,2.34,704,2.3,707,2.23,615,2.13,727,2.26,595,2.05,600,1.95,595,1.8,604,1.79,608,1.72,618,1.85,623,1.8,638,1.89,643,1.8,698,1.8,723,1.79,635,1.71,592,1.64,698,1.6,710,1.56,712,1.49,669,1.46,585,1.31,597,1.23,604,1.16,608,1.27,615,1.23,601,1.11,712,1.25,620,1.03,629,0.98,636,1.07,597,0.86,606,0.82,646,0.9,641,0.74,698,0.89,738,0.74,604,0.64,612,0.57,627,0.67,635,0.62,641,0.53,632,0.48,583,0.49,589,0.45,669,0.49,704,0.45,646,0.37,652,0.26,684,0.18,606,0.25,595,0.1,585,0.04,583,0,666,0.04,641,0.18,
1293,5.73,1295,5.46,1293,5.41,1286,5.0,1312,5.0,1293,4.84,1297,4.55,1301,4.22,1309,3.81,1295,3.65,1304,3.36,1312,3.4,1289,3.27,1289,3.2,1297,2.67,1335,2.56,1332,2.31,1301,1.93,1304,1.85,1306,1.68,1297,0.8];

const watsonLtB = [21,7.55,99,7.47,53,6.56,21,5.99,99,6.29,93,6.28,53,5.91,53,5.82,87,5.99,99,6.03,87,5.82,87,5.5,38,5.23,99,5.37,93,5.33,93,5.1,87,5.13,30,4.96,84,4.94,93,4.96,67,4.74,80,4.73,26,4.68,32,4.61,87,4.59,87,4.45,34,4.36,78,4.09,26,4.04,53,3.59,29,3.79,78,3.81,29,3.4,26,3.3,38,3.02,30,2.53,32,2.23,86,0.9,21,0.67,29,0.64,32,0.48,26,0.31,
250,1.39,250,0.16,273,2.99,367,5.7,511,0.34,1011,3.75,
677,7.24,675,6.52,677,6.46,652,5.96,673,5.89,660,5.51,673,5.43,658,5.33,732,5.32,669,5.17,669,5.0,673,4.86,681,4.74,686,4.72,673,4.61,681,4.59,677,4.55,566,4.51,569,4.33,574,4.33,677,4.31,654,4.2,677,4.09,581,3.91,569,3.81,569,3.71,673,3.84,654,3.73,663,3.69,658,3.61,681,3.61,686,3.63,654,3.53,583,3.32,700,3.27,641,3.08,646,3.05,654,2.95,663,2.91,677,2.97,681,2.91,686,2.94,684,2.83,675,2.77,681,2.69,669,2.67,608,2.87,646,2.63,641,2.56,646,2.48,652,2.53,632,2.46,638,2.4,744,2.17,641,2.03,620,1.89,627,1.82,658,1.93,704,1.8,681,1.74,663,1.64,635,1.6,643,1.56,677,1.48,589,1.48,600,1.41,650,1.39,658,1.33,641,1.3,646,1.25,623,1.3,629,1.21,698,1.33,675,1.16,583,1.13,585,1.07,608,0.98,600,0.94,608,0.9,692,0.86,698,0.82,707,0.82,710,0.75,704,0.7,620,0.82,635,0.82,641,0.9,608,0.7,615,0.67,595,0.74,623,0.57,629,0.53,608,0.49,615,0.45,620,0.41,623,0.37,608,0.39,601,0.45,632,0.37,638,0.31,643,0.29,629,0.25,635,0.21,627,0.16,620,0.12,629,0.08,638,0.1,585,0.26,595,0.31,646,0.21,710,0.21,704,0.04,707,0,608,0.04,572,0.25,
1326,6.28,1309,5.51,1329,5.46,1293,5.35,1404,5.46,1396,5.36,1306,4.8,1318,4.8,1329,4.8,1309,4.69,1335,4.49,1404,4.59,1398,4.53,1392,4.39,1266,4.39,1329,4.36,1335,4.39,1270,4.12,1324,4.12,1329,4.12,1373,4.12,1286,3.81,1332,3.69,1289,3.51,1283,3.49,1274,3.49,1272,3.45,1373,3.4,1335,3.2,1312,3.08,1278,2.58,1327,2.5,1324,2.46,1275,2.05,1293,1.89,1295,1.85,1306,1.72,1312,1.72,1312,1.58,1318,1.58,1324,1.58,1301,0.31,1304,0.29];

const pairs = (a: number[]) => {
  const r: number[][] = [];
  for (let i = 0; i + 1 < a.length; i += 2) r.push([a[i], a[i + 1]]);
  return r;
};

const AXIS = '#333';
const LABEL = '#222';

function valueAxisX(grid: number, opts: any) {
  return {
    gridIndex: grid,
    type: 'value',
    position: 'bottom',
    splitLine: { show: false },
    axisLine: { onZero: false, lineStyle: { color: AXIS, width: 1 } },
    axisTick: { inside: true, length: 4, lineStyle: { color: AXIS } },
    ...opts,
  };
}

export default function App() {
  const ref = useRef<HTMLDivElement>(null);
  useEffect(() => {
    if (!ref.current) return;
    const chart = echarts.init(ref.current, undefined, { renderer: 'svg' });
    const fmtFreq = (ticks: number[]) => (v: number) => {
      const hit = ticks.find((t) => Math.abs(t - v) < 1e-9);
      if (hit === undefined) return '';
      return hit === 0 ? '0' : hit.toFixed(2);
    };
    const lab = (formatter: any) => ({ margin: 4, fontSize: 12, color: LABEL, fontFamily: FONT, showMaxLabel: false, formatter });
    const scatterBase = { type: 'scatter', symbol: 'circle', symbolSize: 5, progressive: 0, silent: true };
    const dashed = (xi: number, yi: number, data: number[][], dash: number[], width: number) => ({
      type: 'line', xAxisIndex: xi, yAxisIndex: yi, data, symbol: 'none', clip: false, silent: true, z: 5,
      lineStyle: { color: '#000', width, type: dash },
    });
    const txt = (x: number, y: number, text: string, size: number, fill: string, align: string, rotation = 0) => ({
      type: 'text', x, y, rotation,
      style: { text, font: `${size}px ${FONT}`, fill, align, verticalAlign: 'middle', textAlign: align, textVerticalAlign: 'middle' },
    });
    const option: any = {
      animation: false,
      backgroundColor: '#ffffff',
      textStyle: { fontFamily: FONT },
      grid: [
        { left: 45, top: 32.7, width: 172.5, height: 364.6 },
        { left: 278.3, top: 32.7, width: 421.7, height: 364.6 },
        { left: 48.3, top: 561.7, width: 160.4, height: 325 },
        { left: 290.7, top: 561.7, width: 409.3, height: 325 },
      ],
      xAxis: [
        valueAxisX(0, { inverse: true, min: 0, max: 0.1664, interval: 0.05, offset: 21, axisLabel: lab(fmtFreq(freqTicksA)) }),
        valueAxisX(1, { min: 0, max: 3287, interval: 1000, offset: 22, axisLabel: lab((v: number) => v.toLocaleString('en-US')) }),
        valueAxisX(2, { inverse: true, min: 0, max: 0.1122, interval: 0.03, offset: 22, axisLabel: lab(fmtFreq(freqTicksB)) }),
        valueAxisX(3, { min: 0, max: 1410, interval: 500, offset: 22, axisLabel: lab((v: number) => String(v)) }),
      ],
      yAxis: [
        { gridIndex: 0, type: 'value', position: 'right', min: 0, max: 9, interval: 1, offset: 11.5, splitLine: { show: false },
          axisLine: { onZero: false, lineStyle: { color: AXIS } }, axisTick: { inside: true, length: 4, lineStyle: { color: AXIS } }, axisLabel: { show: false } },
        { gridIndex: 0, type: 'category', data: binLabelsA, show: false, boundaryGap: true },
        { gridIndex: 1, type: 'value', position: 'left', min: 0, max: 9, interval: 1, offset: 6, splitLine: { show: false },
          axisLine: { onZero: false, lineStyle: { color: AXIS } }, axisTick: { inside: true, length: 3, lineStyle: { color: AXIS } },
          axisLabel: { margin: 4, fontSize: 12, color: LABEL, fontFamily: FONT } },
        { gridIndex: 2, type: 'value', position: 'right', min: 0, max: 8, interval: 1, offset: 20, splitLine: { show: false },
          axisLine: { onZero: false, lineStyle: { color: AXIS } }, axisTick: { inside: true, length: 4, lineStyle: { color: AXIS } }, axisLabel: { show: false } },
        { gridIndex: 2, type: 'category', data: binLabelsB, show: false, boundaryGap: true },
        { gridIndex: 3, type: 'value', position: 'left', min: 0, max: 8, interval: 1, offset: 18, splitLine: { show: false },
          axisLine: { onZero: false, lineStyle: { color: AXIS } }, axisTick: { inside: true, length: 3, lineStyle: { color: AXIS } },
          axisLabel: { margin: 4, fontSize: 12, color: LABEL, fontFamily: FONT } },
      ],
      series: [
        { type: 'bar', xAxisIndex: 0, yAxisIndex: 1, stack: 'hA', data: histBlueA, barCategoryGap: '0%', barGap: '0%', itemStyle: { color: BLUE }, silent: true },
        { type: 'bar', xAxisIndex: 0, yAxisIndex: 1, stack: 'hA', data: histRedA, barCategoryGap: '0%', barGap: '0%', itemStyle: { color: RED }, silent: true },
        dashed(0, 0, [[0.1613, threshold], [0, threshold]], [3, 2], 1),
        { ...scatterBase, xAxisIndex: 1, yAxisIndex: 2, data: pairs([...watsonGeA1, ...watsonGeA2, ...watsonGeA3, ...watsonGeA4]), itemStyle: { color: BLUE } },
        { ...scatterBase, xAxisIndex: 1, yAxisIndex: 2, data: pairs([...watsonLtA1, ...watsonLtA2, ...watsonLtA3, ...watsonLtA4]), itemStyle: { color: RED } },
        dashed(1, 2, [[-44, threshold], [3287, threshold]], [3, 2], 1),
        { type: 'bar', xAxisIndex: 2, yAxisIndex: 4, stack: 'hB', data: histBlueB, barCategoryGap: '0%', barGap: '0%', itemStyle: { color: BLUE }, silent: true },
        { type: 'bar', xAxisIndex: 2, yAxisIndex: 4, stack: 'hB', data: histRedB, barCategoryGap: '0%', barGap: '0%', itemStyle: { color: RED }, silent: true },
        dashed(2, 3, [[0.1145, threshold], [-0.0058, threshold]], [6, 4], 1.5),
        { ...scatterBase, xAxisIndex: 3, yAxisIndex: 5, data: pairs(watsonGeB), itemStyle: { color: BLUE } },
        { ...scatterBase, xAxisIndex: 3, yAxisIndex: 5, data: pairs(watsonLtB), itemStyle: { color: RED } },
        dashed(3, 5, [[-62, threshold], [1472, threshold]], [3, 2], 1),
      ],
      graphic: [
        txt(1, 14, 'A', 28, '#111', 'left'),
        txt(2, 527, 'B', 29, '#111', 'left'),
        txt(679, 33, 'Abundance ratio of siRNAs from the same duplex', 17, '#111', 'right'),
        txt(679, 53, 'Watson \u2265 Crick', 17, BLUE, 'right'),
        txt(679, 73, 'Watson < Crick', 17, RED, 'right'),
        txt(240, 215, 'log2(siRNA abundance ratio from the same duplex)', 16, '#111', 'center', Math.PI / 2),
        txt(240, 725, 'log2(siRNA abundance ratio from the same duplex)', 15.5, '#111', 'center', Math.PI / 2),
        txt(131, 446, 'Frequency', 16, '#111', 'center'),
        txt(489, 446, 'Position on RNA1', 16, '#111', 'center'),
        txt(128, 935, 'Frequency', 16, '#111', 'center'),
        txt(496, 935, 'Position on RNA2', 16, '#111', 'center'),
      ],
    };
    chart.setOption(option);
    return () => chart.dispose();
  }, []);
  return <div ref={ref} style={{ position: 'fixed', left: 0, top: 0, width: 718, height: 945, background: '#fff' }} />;
}
